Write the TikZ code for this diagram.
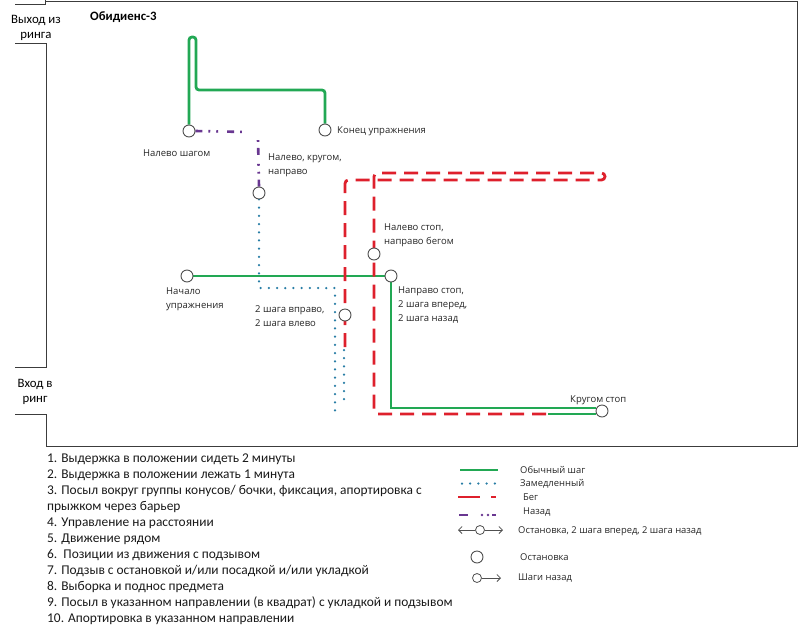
\documentclass[tikz,border=0pt]{standalone}
\usepackage{fontspec}
\setmainfont{Carlito}
\newfontfamily\lab{Open Sans}
\usetikzlibrary{arrows.meta,backgrounds}
\definecolor{gr}{RGB}{34,168,84}
\definecolor{rd}{RGB}{222,32,44}
\definecolor{bl}{RGB}{40,125,165}
\definecolor{pu}{RGB}{105,55,145}
\definecolor{fr}{RGB}{60,60,60}
\definecolor{cg}{RGB}{80,80,80}
\tikzset{
  frame/.style={draw=fr, line width=0.9pt},
  stop/.style={circle, draw=cg, line width=0.9pt, fill=white, minimum size=12pt, inner sep=0pt},
  smallstop/.style={circle, draw=cg, line width=0.8pt, fill=white, minimum size=9pt, inner sep=0pt},
  walk/.style={draw=gr, line width=2.8pt},
  slow/.style={draw=bl, line width=2.5pt, line cap=round, dash pattern=on 0pt off 8.2pt},
  run/.style={draw=rd, line width=2.8pt, dash pattern=on 14pt off 8pt},
  back/.style={draw=pu, line width=2.6pt, dash pattern=on 7pt off 6pt on 1.8pt off 6pt on 1.8pt off 9pt},
  lbl/.style={inner sep=0pt, font=\lab\fontsize{9.5}{14}\selectfont, align=left, text=black!85},
  lst/.style={inner sep=0pt, anchor=west, font=\fontsize{13.4}{16}\selectfont, text=black!90},
  leg/.style={inner sep=0pt, anchor=west, font=\lab\fontsize{9.4}{12}\selectfont, text=black!85},
  tip/.style={draw=cg, line width=0.8pt}
}
\begin{document}
\begin{tikzpicture}[x=1pt,y=-1pt]
\useasboundingbox (0,0) rectangle (800,635);
% ring frame
\draw[frame] (15,4) -- (45,4) -- (45,0);
\draw[frame] (46,1.5) -- (797,1.5) -- (797,446) -- (46,446) -- (46,414) -- (15,414);
\draw[frame] (15,367) -- (46,367) -- (46,43) -- (15,43);
\node[inner sep=0pt, align=center, font=\fontsize{12.8}{15}\selectfont] (exit) at (36,28) {Выход из\\ринга};
\node[inner sep=0pt, align=center, font=\fontsize{12.8}{15}\selectfont] (entry) at (35,392) {Вход в\\ринг};
\node[inner sep=0pt, anchor=west, font=\fontsize{12.8}{14}\selectfont\bfseries] (title) at (90,17) {Обидиенс-3};

% stops
\node[stop] (nlsh) at (189,131) {};
\node[stop] (kon) at (325,130) {};
\node[stop] (nkn) at (259,193) {};
\node[stop] (nach) at (187,276) {};
\node[stop] (nps) at (391,276) {};
\node[stop] (nsb) at (374,254) {};
\node[stop] (dsh) at (345,315) {};
\node[stop] (krs) at (602,411) {};
\coordinate (gtop1) at (189,37);
\coordinate (gtop2) at (196,37);
\coordinate (gmid) at (196,90);
\coordinate (gmid2) at (325,90);
\coordinate (pend) at (246,132);
\coordinate (pst) at (258,139);
\coordinate (rs) at (345,347);
\coordinate (rend) at (548,414);

\begin{pgfonlayer}{background}
% green: walk
\draw[walk, rounded corners=3pt] (nlsh.north) -- (gtop1) -- (gtop2) -- (gmid) -- (gmid2) -- (kon.north);
\draw[walk] (nach.east) -- (nps.west);
\draw[walk] (nps.south) -- (nps.south |- 0,408) -- (krs.west |- 0,408);
\draw[walk] (rend) -- (krs.west |- 0,414);
% purple: back
\draw[back] (nlsh.east) -- (pend);
\draw[back] (nkn.north) -- (pst);
% blue dotted: slow
\draw[slow] (nkn.south) -- (259,288) -- (335,288) -- (335,414);
\draw[slow] (344,350) -- (344,405);
% red: run
\draw[run, rounded corners=3.5pt] (rs) -- (345,180) -- (605,180) -- (605,173) -- (374,173) -- (374,414) -- (rend);
\end{pgfonlayer}

% labels
\node[lbl, anchor=west] (t1) at (143,153) {Налево шагом};
\node[lbl, anchor=west] (t2) at (337,131) {Конец упражнения};
\node[lbl, anchor=west] (t3) at (268,165) {Налево, кругом,\\направо};
\node[lbl, anchor=west] (t4) at (166,299.5) {Начало\\упражнения};
\node[lbl, anchor=west] (t5) at (255,316.5) {2 шага вправо,\\2 шага влево};
\node[lbl, anchor=west] (t6) at (398,305) {Направо стоп,\\2 шага вперед,\\2 шага назад};
\node[lbl, anchor=west] (t7) at (384,235) {Налево стоп,\\направо бегом};
\node[lbl, anchor=west] (t8) at (570,400) {Кругом стоп};

% list
\node[lst] (l1) at (47,459) {1. Выдержка в положении сидеть 2 минуты};
\node[lst] (l2) at (47,475) {2. Выдержка в положении лежать 1 минута};
\node[lst] (l3) at (47,491) {3. Посыл вокруг группы конусов/ бочки, фиксация, апортировка с};
\node[lst] (l3b) at (47,507) {прыжком через барьер};
\node[lst] (l4) at (47,523) {4. Управление на расстоянии};
\node[lst] (l5) at (47,539) {5. Движение рядом};
\node[lst] (l6) at (47,555) {6.\ \ Позиции из движения с подзывом};
\node[lst] (l7) at (47,571) {7. Подзыв с остановкой и/или посадкой и/или укладкой};
\node[lst] (l8) at (47,587) {8. Выборка и поднос предмета};
\node[lst] (l9) at (47,603) {9. Посыл в указанном направлении (в квадрат) с укладкой и подзывом};
\node[lst] (l10) at (47,619) {10. Апортировка в указанном направлении};

% legend
\draw[walk] (460,470) -- (498,470);
\draw[slow] (462,483.5) -- (499,483.5);
\draw[rd, line width=2.8pt] (458,497) -- (480,497) (491,497) -- (496,497);
\draw[pu, line width=2.6pt] (459,515) -- (468,515) (492,515) -- (496,515);
\fill[pu] (482,515) circle (1.3) (488,515) circle (1.3);
\node[smallstop] (lc1) at (480,530) {};
\coordinate (la1) at (458,530);
\coordinate (la2) at (503,530);
\draw[tip, -{Straight Barb[length=3.5pt,width=7pt]}] (lc1.west) -- (la1);
\draw[tip, -{Straight Barb[length=3.5pt,width=7pt]}] (lc1.east) -- (la2);
\node[stop] (lc2) at (477,557) {};
\node[smallstop] (lc3) at (477,578) {};
\coordinate (la3) at (501,578);
\draw[tip, -{Straight Barb[length=3.5pt,width=7pt]}] (lc3.east) -- (la3);
\node[leg] (g1) at (520,470) {Обычный шаг};
\node[leg] (g2) at (520,484) {Замедленный};
\node[leg] (g3) at (523,497) {Бег};
\node[leg] (g4) at (523,512) {Назад};
\node[leg] (g5) at (518,531) {Остановка, 2 шага вперед, 2 шага назад};
\node[leg] (g6) at (520,557) {Остановка};
\node[leg] (g7) at (518,578) {Шаги назад};
\end{tikzpicture}
\end{document}
